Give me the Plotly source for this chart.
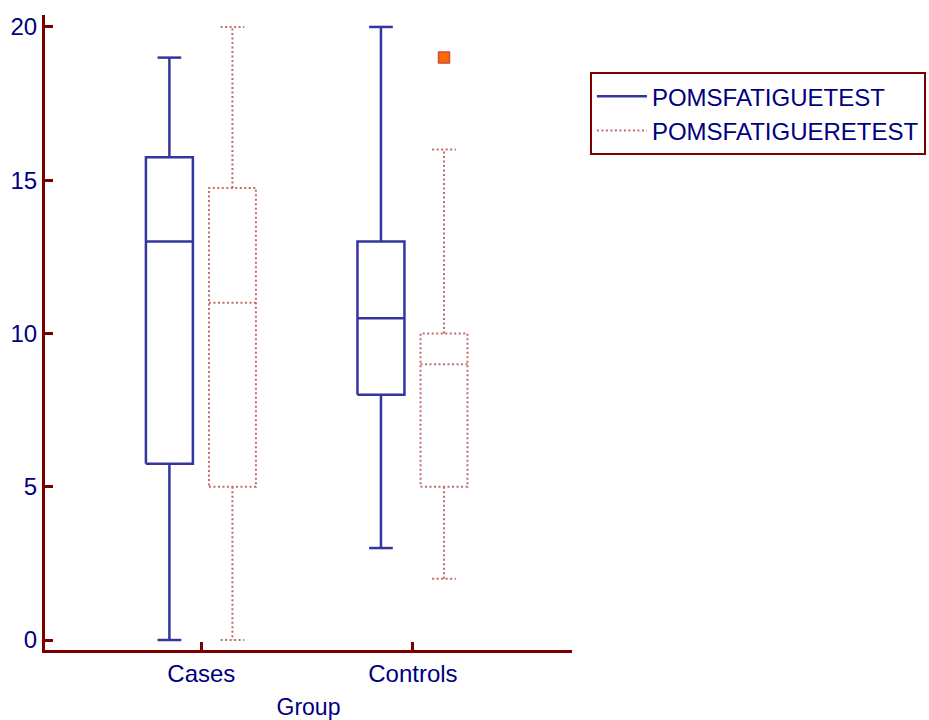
import plotly.graph_objects as go

# ---- data ----
groups = ["Cases", "Controls"]
series_names = ["POMSFATIGUETEST", "POMSFATIGUERETEST"]

test_min = [0, 3]
test_q1 = [5.75, 8]
test_median = [13, 10.5]
test_q3 = [15.75, 13]
test_max = [19, 20]

retest_min = [0, 2]
retest_q1 = [5, 5]
retest_median = [11, 9]
retest_q3 = [14.75, 10]
retest_max = [20, 16]

outlier_group = ["Controls"]
outlier_series = ["POMSFATIGUERETEST"]
outlier_value = [19]

# ---- styles ----
AXIS_COL = "#7a0000"
TXT_COL = "#000080"
TEST_COL = "#3535a0"
RETEST_COL = "#c46a6a"
FONT = "Liberation Sans, Arial, sans-serif"

offsets = {"POMSFATIGUETEST": -0.151, "POMSFATIGUERETEST": 0.147}
half_box = 0.111
half_cap = 0.056


def box_path(pos, mn, q1, med, q3, mx):
    xs, ys = [], []
    for i, p in enumerate(pos):
        l, r = p - half_box, p + half_box
        cl, cr = p - half_cap, p + half_cap
        # box
        xs += [l, r, r, l, l, None]
        ys += [q1[i], q1[i], q3[i], q3[i], q1[i], None]
        # median
        xs += [l, r, None]
        ys += [med[i], med[i], None]
        # upper whisker + cap
        xs += [p, p, None, cl, cr, None]
        ys += [q3[i], mx[i], None, mx[i], mx[i], None]
        # lower whisker + cap
        xs += [p, p, None, cl, cr, None]
        ys += [q1[i], mn[i], None, mn[i], mn[i], None]
    return xs, ys


gpos = {g: i + 1 for i, g in enumerate(groups)}

fig = go.Figure()

tx, ty = box_path([gpos[g] + offsets[series_names[0]] for g in groups],
                  test_min, test_q1, test_median, test_q3, test_max)
fig.add_trace(go.Scatter(x=tx, y=ty, mode="lines", name=series_names[0],
                         line=dict(color=TEST_COL, width=2.5),
                         hoverinfo="skip"))

rx, ry = box_path([gpos[g] + offsets[series_names[1]] for g in groups],
                  retest_min, retest_q1, retest_median, retest_q3, retest_max)
fig.add_trace(go.Scatter(x=rx, y=ry, mode="lines", name=series_names[1],
                         line=dict(color=RETEST_COL, width=2, dash="2px,2.5px"),
                         hoverinfo="skip"))

fig.add_trace(go.Scatter(
    x=[gpos[g] + offsets[s] for g, s in zip(outlier_group, outlier_series)],
    y=outlier_value, mode="markers", showlegend=False,
    marker=dict(symbol="square", size=11, color="#ff6a00",
                line=dict(color="#c84a4a", width=1.5))))

fig.update_layout(
    width=929, height=720,
    margin=dict(l=45, r=357, t=15, b=70, autoexpand=False),
    paper_bgcolor="white", plot_bgcolor="white",
    font=dict(family=FONT, color=TXT_COL, size=24),
    showlegend=True,
    legend=dict(x=1.034, xanchor="left", y=0.91, yanchor="top",
                bordercolor=AXIS_COL, borderwidth=2,
                font=dict(size=24, color=TXT_COL, family=FONT),
                bgcolor="white", tracegroupgap=0, itemwidth=50),
    xaxis=dict(range=[0.261, 2.752], tickmode="array", automargin=False,
               tickvals=[gpos[g] for g in groups], ticktext=groups,
               ticks="inside", ticklen=8, tickwidth=3, tickcolor=AXIS_COL,
               showline=True, linecolor=AXIS_COL, linewidth=3,
               showgrid=False, zeroline=False,
               tickfont=dict(size=24, color=TXT_COL),
               title=dict(text="Group", font=dict(size=23, color=TXT_COL),
                          standoff=20)),
    yaxis=dict(range=[-0.326, 20.39], tickmode="array", automargin=False,
               tickvals=[0, 5, 10, 15, 20],
               ticks="inside", ticklen=8, tickwidth=3, tickcolor=AXIS_COL,
               showline=True, linecolor=AXIS_COL, linewidth=3,
               showgrid=False, zeroline=False,
               tickfont=dict(size=24, color=TXT_COL)),
)

fig.write_html("out.html")
